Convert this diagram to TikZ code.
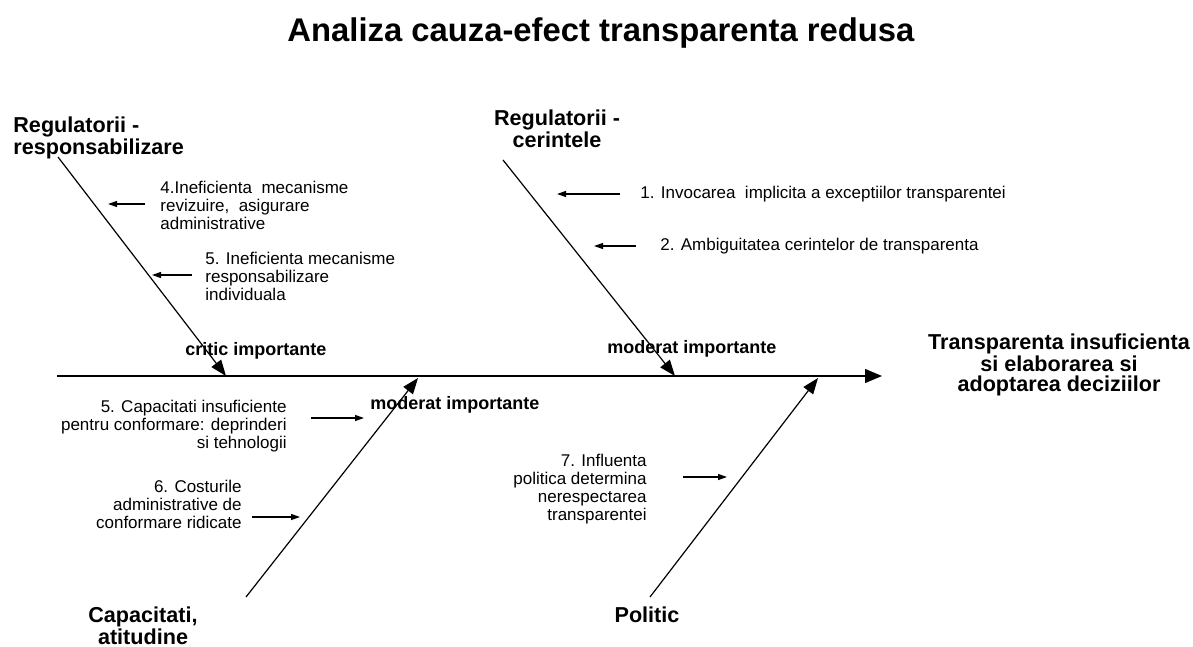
\documentclass[tikz,border=0pt]{standalone}
\usepackage{fontspec}
\setmainfont{Liberation Sans}
\usetikzlibrary{arrows.meta}

\begin{document}
\begin{tikzpicture}[x=0.5pt, y=-0.5pt]
        \useasboundingbox (0,0) rectangle (1193,647);
        \node (title) [inner sep=0pt, font=\fontsize{16.4}{19}\selectfont\bfseries] at (601,33) {Analiza cauza-efect transparenta redusa};

        % categories
        \begin{scope}[every node/.style={inner sep=0pt, font=\fontsize{10.8}{10}\selectfont\bfseries}]
            \node (RR) [anchor=north west, align=left] at (13,116) {Regulatorii -\\responsabilizare};
            \node (RC) [anchor=north, align=center] at (557,109) {Regulatorii -\\cerintele};
            \node (CA) [anchor=north, align=center] at (143,606) {Capacitati,\\atitudine};
            \node (PO) [anchor=north] at (647,606) {Politic};
            \node (EF) [anchor=north, align=center] at (1059,333) {Transparenta insuficienta\\si elaborarea si\\adoptarea deciziilor};
        \end{scope}

        % importance labels
        \begin{scope}[every node/.style={inner sep=0pt, anchor=base west, font=\fontsize{9}{10}\selectfont\bfseries}]
            \node (L1) at (185,355) {critic importante};
            \node (L2) at (607,353) {moderat importante};
            \node (L3) at (370,409) {moderat importante};
        \end{scope}

        % causes
        \begin{scope}[every node/.style={inner sep=0pt, font=\fontsize{8.5}{9}\selectfont}]
            \node (C4) [anchor=north west, align=left] at (160,181) {4.Ineficienta\ \ mecanisme\\revizuire,\ \ asigurare\\administrative};
            \node (C5) [anchor=north west, align=left] at (205,252) {5. Ineficienta mecanisme\\responsabilizare\\individuala};
            \node (C1) [anchor=west] at (640,194) {1. Invocarea\ \ implicita a exceptiilor transparentei};
            \node (C2) [anchor=west] at (660,246) {2. Ambiguitatea cerintelor de transparenta};
            \node (C5b) [anchor=north east, align=right] at (287,400) {5. Capacitati insuficiente\\pentru conformare: deprinderi\\si tehnologii};
            \node (C6) [anchor=north east, align=right] at (242,480) {6. Costurile\\administrative de\\conformare ridicate};
            \node (C7) [anchor=north east, align=right] at (647,454) {7. Influenta\\politica determina\\nerespectarea\\transparentei};
        \end{scope}

        % bones
        \coordinate (S0) at (57,376);
        \coordinate (S1) at (882,376);
        \coordinate (B1s) at (58,157);
        \coordinate (B1e) at (226,376);
        \coordinate (B2s) at (503,160);
        \coordinate (B2e) at (675,376);
        \coordinate (B3s) at (246,597);
        \coordinate (B3e) at (418,378);
        \coordinate (B4s) at (650,597);
        \coordinate (B4e) at (818,378);

        % small arrows
        \coordinate (A4s) at (145,204);  \coordinate (A4e) at (108,204);
        \coordinate (A5s) at (192,275);  \coordinate (A5e) at (152,275);
        \coordinate (A1s) at (620,194);  \coordinate (A1e) at (557,194);
        \coordinate (A2s) at (636,246);  \coordinate (A2e) at (594,246);
        \coordinate (A5bs) at (311,418); \coordinate (A5be) at (364,418);
        \coordinate (A6s) at (252,517);  \coordinate (A6e) at (300,517);
        \coordinate (A7s) at (683,477);  \coordinate (A7e) at (727,477);

        \begin{scope}[every edge/.style={draw=black, line width=0.6pt}]
            \path [-{Triangle[length=8.5pt, width=7pt]}] (S0) edge (S1);
            \path [-{Triangle[length=8pt, width=6pt]}] (B1s) edge (B1e);
            \path [-{Triangle[length=8pt, width=6pt]}] (B2s) edge (B2e);
            \path [-{Triangle[length=8pt, width=6pt]}] (B3s) edge (B3e);
            \path [-{Triangle[length=8pt, width=6pt]}] (B4s) edge (B4e);
        \end{scope}

        \begin{scope}[every edge/.style={draw=black, line width=0.6pt}]
            \path [-{Triangle[length=4.5pt, width=3pt]}] (A4s) edge (A4e);
            \path [-{Triangle[length=4.5pt, width=3pt]}] (A5s) edge (A5e);
            \path [-{Triangle[length=4.5pt, width=3pt]}] (A1s) edge (A1e);
            \path [-{Triangle[length=4.5pt, width=3pt]}] (A2s) edge (A2e);
            \path [-{Triangle[length=4.5pt, width=3pt]}] (A5bs) edge (A5be);
            \path [-{Triangle[length=4.5pt, width=3pt]}] (A6s) edge (A6e);
            \path [-{Triangle[length=4.5pt, width=3pt]}] (A7s) edge (A7e);
        \end{scope}
    \end{tikzpicture}
\end{document}
